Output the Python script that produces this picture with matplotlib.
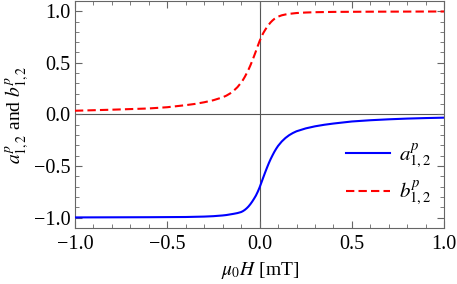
import matplotlib
matplotlib.use("Agg")
import matplotlib.pyplot as plt
from matplotlib.ticker import MultipleLocator

plt.rcParams['font.family'] = ['Liberation Serif', 'DejaVu Serif']
plt.rcParams['mathtext.fontset'] = 'stix'

# field values (mT) and the two curves
field_a = [-1.0, -0.8, -0.6, -0.4, -0.3, -0.25, -0.2, -0.18, -0.16, -0.14,
           -0.12, -0.1, -0.09, -0.08, -0.07, -0.06, -0.05, -0.04, -0.03, -0.02,
           -0.01, 0.0, 0.01, 0.02, 0.03, 0.04, 0.05, 0.06, 0.07, 0.08,
           0.09, 0.1, 0.12, 0.14, 0.16, 0.18, 0.2, 0.25, 0.3, 0.35,
           0.4, 0.5, 0.6, 0.7, 0.8, 0.9, 1.0]
a_p = [-0.997, -0.996, -0.995, -0.993, -0.989, -0.985, -0.978, -0.974, -0.968, -0.962,
       -0.955, -0.945, -0.936, -0.924, -0.909, -0.891, -0.869, -0.844, -0.816, -0.786,
       -0.749, -0.707, -0.659, -0.61, -0.562, -0.516, -0.472, -0.432, -0.396, -0.362,
       -0.332, -0.305, -0.262, -0.228, -0.201, -0.18, -0.163, -0.135, -0.115, -0.1,
       -0.088, -0.068, -0.056, -0.047, -0.04, -0.035, -0.031]

field_b = [-1.0, -0.8, -0.6, -0.5, -0.4, -0.35, -0.3, -0.25, -0.2, -0.18,
           -0.16, -0.14, -0.12, -0.1, -0.09, -0.08, -0.07, -0.06, -0.05, -0.04,
           -0.03, -0.02, -0.01, 0.0, 0.01, 0.02, 0.03, 0.04, 0.05, 0.06,
           0.07, 0.08, 0.09, 0.1, 0.12, 0.14, 0.16, 0.2, 0.25, 0.3,
           0.4, 0.6, 0.8, 1.0]
b_p = [0.036, 0.046, 0.058, 0.07, 0.09, 0.102, 0.118, 0.138, 0.166, 0.182,
       0.203, 0.23, 0.264, 0.308, 0.334, 0.364, 0.398, 0.434, 0.474, 0.518,
       0.564, 0.612, 0.662, 0.71, 0.752, 0.788, 0.818, 0.846, 0.87, 0.892,
       0.91, 0.925, 0.937, 0.947, 0.96, 0.968, 0.974, 0.982, 0.987, 0.99,
       0.993, 0.995, 0.996, 0.997]

fig = plt.figure(figsize=(4.57, 2.84), dpi=100)
ax = fig.add_axes([0.164, 0.197, 0.808, 0.8])

ax.axhline(0, color='#555555', lw=0.8, zorder=1)
ax.axvline(0, color='#555555', lw=0.8, zorder=1)

ax.plot(field_a, a_p, color='#0000ff', lw=1.5, label=r'$a^{p}_{1,2}$', zorder=3)
ax.plot(field_b, b_p, color='#ff0000', lw=1.5, ls=(0, (4, 2)), label=r'$b^{p}_{1,2}$', zorder=3)

ax.set_xlim(-1, 1)
ax.set_ylim(-1.1, 1.1)
ax.xaxis.set_major_locator(MultipleLocator(0.5))
ax.xaxis.set_minor_locator(MultipleLocator(0.1))
ax.yaxis.set_major_locator(MultipleLocator(0.5))
ax.yaxis.set_minor_locator(MultipleLocator(0.1))
ax.tick_params(which='both', direction='in', top=True, right=True, colors='#666666',
               labelcolor='black', labelsize=14.5)
ax.tick_params(which='major', length=5, width=0.8)
ax.tick_params(which='minor', length=3, width=0.6)
ax.tick_params(axis='x', pad=5)
ax.tick_params(axis='y', pad=3)
for s in ax.spines.values():
    s.set_color('#666666')
    s.set_linewidth(0.8)

ax.set_xlabel(r'$\mu_0H$ [mT]', fontsize=14, labelpad=4)
ax.set_ylabel(r'$a^{p}_{1,2}$ and $b^{p}_{1,2}$', fontsize=14, labelpad=2)

ax.legend(loc='lower right', bbox_to_anchor=(1.015, 0.005), frameon=False, fontsize=15,
          handlelength=2.1, handletextpad=0.4, labelspacing=0.4)

fig.savefig('out.png', dpi=100)
